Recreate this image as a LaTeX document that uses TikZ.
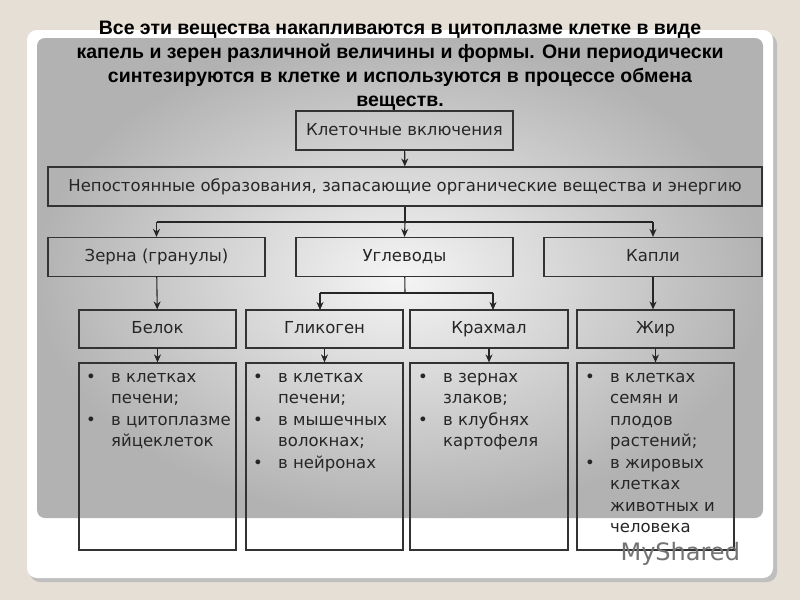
\documentclass[tikz,border=0pt]{standalone}
\usepackage{fontspec}
\setmainfont{DejaVu Sans}
\newfontfamily\titlefont{Liberation Sans}
\usetikzlibrary{arrows.meta}
\newcommand{\bl}{\makebox[26pt][l]{\hspace{1pt}•}}
\newcommand{\ind}{\hspace{26pt}}
\begin{document}
\begin{tikzpicture}[x=1pt,y=-1pt,
  box/.style={draw=black!80,line width=1.2pt,minimum height=39pt,inner sep=0pt,font=\fontsize{16.5}{18}\selectfont,text=black!85,text height=12pt,text depth=3pt},
  arr/.style={-{Stealth[length=8pt,width=7pt]},line width=1.1pt,draw=black!85},
  ln/.style={line width=1.1pt,draw=black!85},
  det/.style={anchor=north west,align=left,font=\fontsize{16.5}{21.5}\selectfont,text=black!85,inner sep=0pt}]
\useasboundingbox (0,0) rectangle (800,600);
\fill[fill={rgb,255:red,229;green,223;blue,214}] (0,0) rectangle (800,600);
\fill[black!25,rounded corners=10pt] (30,34) rectangle (777,582);
\fill[white,rounded corners=10pt] (27,30) rectangle (773,578);
\shade[inner color=black!4,outer color=black!30,rounded corners=8pt] (37,38) rectangle (763,518);
\node[align=center,font=\titlefont\bfseries\fontsize{19.5}{24}\selectfont] (title) at (400,66)
 {Все эти вещества накапливаются в цитоплазме клетке в виде\\капель и зерен различной величины и формы. Они периодически\\синтезируются в клетке и используются в процессе обмена\\веществ.};
\node[box,minimum width=217pt] (kv) at (404.5,130.5) {Клеточные включения};
\node[box,minimum width=714pt] (np) at (405,186.5) {Непостоянные образования, запасающие органические вещества и энергию};
\node[box,minimum width=217pt] (zr) at (156.5,257) {Зерна (гранулы)};
\node[box,minimum width=217pt] (ug) at (404.5,257) {Углеводы};
\node[box,minimum width=218pt] (kp) at (653,257) {Капли};
\node[box,minimum width=157pt,minimum height=38pt] (bk) at (157.5,329) {Белок};
\node[box,minimum width=157pt,minimum height=38pt] (gl) at (324.5,329) {Гликоген};
\node[box,minimum width=158pt,minimum height=38pt] (kr) at (489,329) {Крахмал};
\node[box,minimum width=157pt,minimum height=38pt] (zh) at (655.5,329) {Жир};
\node[box,minimum width=157pt,minimum height=187pt] (d1) at (157.5,456.5) {};
\node[box,minimum width=157pt,minimum height=187pt] (d2) at (324.5,456.5) {};
\node[box,minimum width=158pt,minimum height=187pt] (d3) at (489,456.5) {};
\node[box,minimum width=157pt,minimum height=187pt] (d4) at (655.5,456.5) {};
\node[det] (t1) at (85,373) {\bl в клетках\\\ind печени;\\\bl в цитоплазме\\\ind яйцеклеток};
\node[det] (t2) at (252,373) {\bl в клетках\\\ind печени;\\\bl в мышечных\\\ind волокнах;\\\bl в нейронах};
\node[det] (t3) at (417,373) {\bl в зернах\\\ind злаков;\\\bl в клубнях\\\ind картофеля};
\node[det] (t4) at (584,373) {\bl в клетках\\\ind семян и\\\ind плодов\\\ind растений;\\\bl в жировых\\\ind клетках\\\ind животных и\\\ind человека};
\draw[arr] (kv) -- (np);
\coordinate (j1) at (405,222);
\draw[ln] (np) -- (j1);
\draw[ln] (zr.north |- j1) -- (kp.north |- j1);
\draw[arr] (zr.north |- j1) -- (zr.north);
\draw[arr] (j1) -- (ug.north);
\draw[arr] (kp.north |- j1) -- (kp.north);
\draw[arr] (zr) -- (bk);
\draw[arr] (kp.south) -- (kp.south |- zh.north);
\coordinate (j2) at (405,293);
\draw[ln] (ug) -- (j2);
\draw[ln] (320,293) -- (493,293);
\draw[arr] (320,293) -- (320,310);
\draw[arr] (493,293) -- (493,310);
\draw[arr] (bk) -- (d1);
\draw[arr] (gl.south) -- (gl.south |- d2.north);
\draw[arr] (kr.south) -- (kr.south |- d3.north);
\draw[arr] (zh) -- (d4);
\node[font=\fontsize{24}{24}\selectfont,text=black!55,anchor=west] (ms) at (617,554) {MyShared};
\end{tikzpicture}
\end{document}
